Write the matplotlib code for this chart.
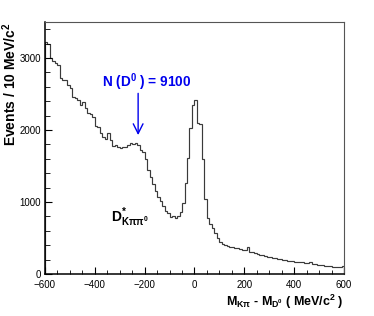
#!/usr/bin/env python3

import numpy as np
import matplotlib
matplotlib.use('Agg')
import matplotlib.pyplot as plt
from matplotlib.ticker import MultipleLocator

plt.rcParams['font.family'] = ['Liberation Sans', 'DejaVu Sans']
plt.rcParams['mathtext.fontset'] = 'custom'
plt.rcParams['mathtext.default'] = 'regular'

# Histogram: M(K pi) - M(D0), 10 MeV bins from -600 to 600
x_min, x_max, bin_width = -600, 600, 10
counts = [
    3220, 3190, 3000, 2960, 2930, 2900, 2720, 2700, 2690, 2630,
    2580, 2460, 2440, 2420, 2350, 2390, 2310, 2240, 2230, 2175,
    2060, 2040, 1960, 1900, 1880, 1960, 1860, 1780, 1790, 1760,
    1750, 1770, 1760, 1790, 1820, 1800, 1820, 1790, 1720, 1690,
    1600, 1440, 1350, 1250, 1150, 1070, 1010, 950, 880, 850,
    790, 800, 780, 800, 860, 990, 1260, 1610, 2030, 2350,
    2420, 2100, 2080, 1600, 1040, 780, 700, 640, 570, 500,
    440, 410, 400, 390, 380, 370, 360, 360, 350, 340,
    330, 370, 310, 300, 290, 280, 270, 260, 250, 240,
    240, 225, 220, 210, 205, 195, 200, 185, 180, 175,
    170, 165, 170, 160, 155, 150, 160, 145, 140, 130,
    125, 130, 115, 110, 105, 100, 95, 100, 90, 105,
]
bin_edges = np.arange(x_min, x_max + bin_width, bin_width)

# annotations
yield_text = 'N (D$^{0}$ ) = 9100'
yield_x, yield_y = -371, 2600
arrow_x, arrow_top, arrow_tip = -226, 2510, 1930
label_x, label_y = -335, 720

fig = plt.figure(figsize=(3.74, 3.16), dpi=100)
ax = fig.add_axes([0.120, 0.133, 0.800, 0.797])

ax.stairs(counts, bin_edges, color='#3a3a3a', linewidth=0.85)

ax.set_xlim(x_min, x_max)
ax.set_ylim(0, 3500)

ax.xaxis.set_major_locator(MultipleLocator(200))
ax.xaxis.set_minor_locator(MultipleLocator(50))
ax.yaxis.set_major_locator(MultipleLocator(1000))
ax.yaxis.set_minor_locator(MultipleLocator(200))
ax.tick_params(which='both', direction='in', top=False, right=False, labelsize=7, color='black')
ax.tick_params(axis='x', which='major', length=5, pad=4)
ax.tick_params(axis='x', which='minor', length=3)
ax.tick_params(axis='y', which='major', length=5, pad=3)
ax.tick_params(axis='y', which='minor', length=3.5)

for side in ['left', 'bottom']:
    ax.spines[side].set_linewidth(1.1)
    ax.spines[side].set_color('black')
for side in ['top', 'right']:
    ax.spines[side].set_linewidth(0.8)
    ax.spines[side].set_color('#555555')

ax.set_ylabel('Events / 10 MeV/c$^{2}$', fontsize=10, fontweight='bold', loc='top', labelpad=0)
ax.set_xlabel(r'M$_{K\pi}$ - M$_{D^{0}}$ ( MeV/c$^{2}$ )', fontsize=9, fontweight='bold',
              loc='right', labelpad=2)

ax.text(yield_x, yield_y, yield_text, color='#0000ee', fontsize=9.8, fontweight='bold')
ax.annotate('', xy=(arrow_x, arrow_tip), xytext=(arrow_x, arrow_top),
            arrowprops=dict(arrowstyle='->,head_length=0.7,head_width=0.35', color='#0000ee',
                            lw=1.0, shrinkA=0, shrinkB=0))

ax.text(label_x, label_y, r'D$^{*}_{K\pi\pi^{0}}$', fontsize=10, fontweight='bold')

fig.savefig('out.png', dpi=100)
